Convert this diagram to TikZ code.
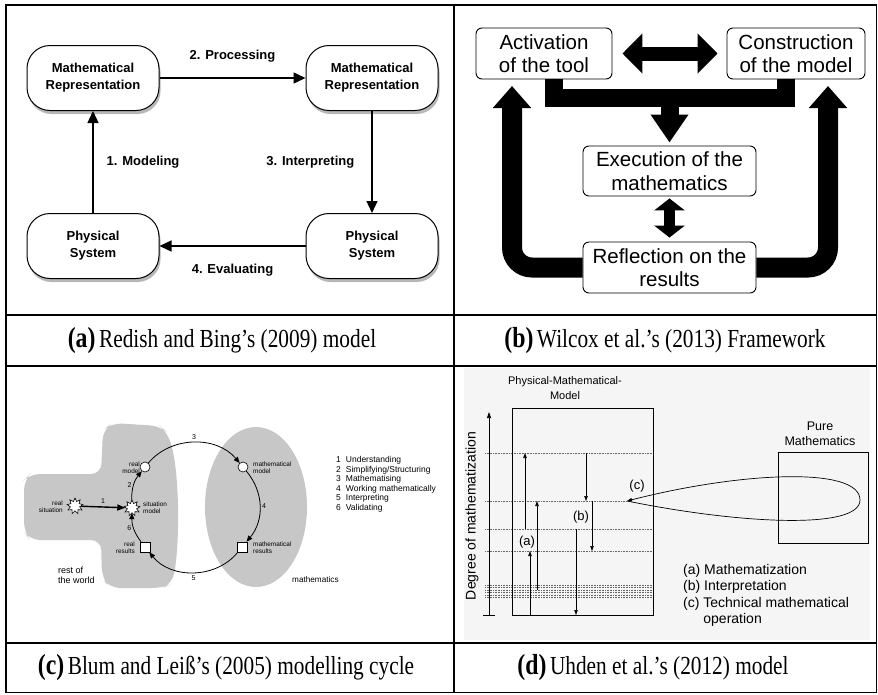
\documentclass[tikz,border=0pt]{standalone}
\usepackage{fontspec}
\setmainfont{Liberation Serif}
\newfontfamily\sansf{Liberation Sans}
\usetikzlibrary{arrows.meta,shadows,shapes.geometric}
\newcommand\fsz[2]{\fontsize{#1}{#2}\selectfont}
\newcommand\captxt[2]{\scalebox{.82}[1]{\textbf{\fsz{29}{29}(#1)}\,#2}}

\tikzset{
  gridline/.style={line width=1.5pt},
  rep/.style={draw, line width=1pt, fill=white, rounded corners=23pt, minimum width=132pt, minimum height=65pt,
    align=center, inner sep=0pt, font=\sansf\bfseries\fsz{13}{17},
    drop shadow={shadow xshift=1.5pt, shadow yshift=-3.5pt, fill=black!40, opacity=.7}},
  cyc/.style={line width=1.4pt, -{Triangle[length=12pt,width=11pt]}},
  cyclab/.style={font=\sansf\bfseries\fsz{13}{15}, inner sep=0pt},
  fw/.style={draw, line width=.9pt, rounded corners=6pt, align=center, inner sep=0pt, font=\sansf\fsz{20.5}{23.5}},
  fat/.style={line width=#1, line join=miter},
  blob/.style={fill=black!22},
  cnode/.style={draw, fill=white, line width=.6pt, inner sep=0pt},
  ring/.style={cnode, circle, minimum size=10pt},
  sq/.style={cnode, minimum size=10pt},
  burst/.style={cnode, star, star points=9, star point ratio=1.7, minimum size=16pt},
  cfl/.style={line width=.8pt, -{Triangle[length=6pt,width=5pt]}},
  ctxt/.style={font=\sansf\fsz{6.4}{7}, inner sep=0pt},
  cnum/.style={font=\sansf\fsz{7}{8}, inner sep=0pt},
  lvl/.style={densely dotted, black!60, line width=.6pt},
  vup/.style={line width=.6pt, -{Triangle[length=5pt,width=3.5pt]}},
  dtxt/.style={font=\sansf\fsz{13}{15}, inner sep=0pt},
  captext/.style={font=\fsz{26}{28}, inner sep=0pt},
}

\begin{document}
\begin{tikzpicture}[x=1pt,y=-1pt]
\useasboundingbox (0,0) rectangle (878,694);
\fill[white] (0,0) rectangle (878,694);

\draw[gridline] (6,5) rectangle (876.5,692.5);
\foreach \y in {315,366,643} \draw[gridline] (6,\y) -- (876.5,\y);
\draw[gridline] (454,5) -- (454,692.5);

% (a)
\node[rep] (mr1) at (93,78) {Mathematical\\Representation};
\node[rep] (mr2) at (372,78) {Mathematical\\Representation};
\node[rep] (ps1) at (93,246) {Physical\\System};
\node[rep] (ps2) at (372,246) {Physical\\System};
\draw[cyc] (ps1) -- node[cyclab, right=13pt]{1. Modeling} (mr1);
\draw[cyc] (mr1) -- node[cyclab, above=15pt]{2. Processing} (mr2);
\draw[cyc] (mr2) -- node[cyclab, left=17pt]{3. Interpreting} (ps2);
\draw[cyc] (ps2) -- node[cyclab, below=17pt]{4. Evaluating} (ps1);

% (b)
\node[fw, minimum width=136pt, minimum height=51pt] (act) at (544,53.5) {Activation\\of the tool};
\node[fw, minimum width=138pt, minimum height=51pt] (con) at (796,53.5) {Construction\\of the model};
\node[fw, minimum width=173pt, minimum height=50pt] (exe) at (669.5,171) {Execution of the\\mathematics};
\node[fw, minimum width=173pt, minimum height=51pt] (refl) at (669.5,267.5) {Reflection on the\\results};
\coordinate (merge) at (669.5,98);
\coordinate (lup) at (512,86);
\coordinate (rup) at (828,86);
\draw[fat=14pt, {Triangle[length=20pt,width=39pt]}-{Triangle[length=20pt,width=39pt]}] ([xshift=10pt]act.east) -- ([xshift=-9pt]con.west);
\draw[fat=18pt] ([xshift=10pt]act.south) |- (merge) -| ([xshift=-10pt]con.south);
\draw[fat=18pt, -{Triangle[length=28pt,width=36pt]}] (merge) -- ([yshift=3pt]exe.north);
\draw[fat=11pt, {Triangle[length=12pt,width=30pt]}-{Triangle[length=12pt,width=30pt]}] ([yshift=-2pt]exe.south) -- ([yshift=4pt]refl.north);
\draw[fat=20pt, rounded corners=20pt, -{Triangle[length=22pt,width=37pt]}] (refl.west) -| (lup);
\draw[fat=20pt, rounded corners=20pt, -{Triangle[length=22pt,width=37pt]}] (refl.east) -| (rup);

% (c)
\fill[blob, rounded corners=10pt] (103,430) -- (112,423) -- (160,426) -- (167,432)
  .. controls (180,470) and (180,545) .. (172,584) -- (162,588) -- (110,588) -- (102,578)
  -- (101,540) -- (30,540) -- (24,532) -- (24,480) -- (30,474) -- (101,474) -- cycle;
\fill[blob] (256,507) ellipse [x radius=51, y radius=80];
\node[ring] (rm) at (145,467) {};
\node[ring] (mm) at (243,467) {};
\node[burst] (sm) at (132,508) {};
\node[sq] (rr) at (145,547) {};
\node[sq] (mr) at (242,547) {};
\node[burst] (rs) at (75,506) {};
\draw[cfl] (rm) to[bend left=50] node[cnum, above=3pt]{3} (mm);
\draw[cfl] (mm) to[bend left=40] node[cnum, right=2pt]{4} (mr);
\draw[cfl] (mr) to[bend left=51] node[cnum, below=3pt]{5} (rr);
\draw[cfl] (rr) to[bend left=19] node[cnum, left=2pt]{6} (sm);
\draw[cfl] (sm) to[bend left=20] node[cnum, left=2pt]{2} (rm);
\draw[line width=1.4pt, -{Triangle[length=8pt,width=6pt]}] (rs) -- node[cnum, above=3pt]{1} (sm);
\node[ctxt, align=right, anchor=east] (rmlab) at (140,468) {real\\model};
\node[ctxt, align=left, anchor=west] (mmlab) at (253,468) {mathematical\\model};
\node[ctxt, align=left, anchor=west] (smlab) at (143,508) {situation\\model};
\node[ctxt, align=right, anchor=east] (rslab) at (63,507) {real\\situation};
\node[ctxt, align=right, anchor=east] (rrlab) at (135,548) {real\\results};
\node[ctxt, align=left, anchor=west] (mrlab) at (253,548) {mathematical\\results};
\node[font=\sansf\fsz{9}{10}, align=left, anchor=west, inner sep=0pt] (world) at (58,575) {rest of\\the world};
\node[font=\sansf\fsz{8.2}{9}, anchor=west, inner sep=0pt] (maths) at (292,580) {mathematics};
\node[anchor=north west, inner sep=0pt, font=\sansf\fsz{8.5}{9.5}] (leg) at (336,456)
  {\begin{tabular}{@{}l@{\hspace{5pt}}l@{}}1&Understanding\\2&Simplifying/Structuring\\3&Mathematising\\
   4&Working mathematically\\5&Interpreting\\6&Validating\end{tabular}};

% (d)
\fill[black!4] (464,368) rectangle (870,640);
\node[font=\sansf\fsz{11}{15}, align=center, inner sep=0pt] (pmm) at (565,388) {Physical-Mathematical-\\Model};
\draw[line width=.7pt, -{Triangle[length=6pt,width=4pt]}] (489,615) -- (489,412);
\draw[line width=.7pt] (483,615) -- (495,615);
\node[font=\sansf\fsz{14}{16}, rotate=90, inner sep=0pt] (deg) at (472,516) {Degree of mathematization};
\foreach \y in {453,529,551,585,587.5,590,592.5,595,597.5}
  \draw[lvl] (485,\y) -- (653,\y);
\coordinate (ctip) at (627,501);
\draw[lvl] (485,501) -- (ctip);
\draw[line width=.8pt] (512,408) rectangle (653,615);
\draw[vup] (525,529) -- (525,453);
\draw[vup] (537,590) -- (537,501);
\draw[vup] (530,615) -- (530,551);
\draw[vup] (586,453) -- (586,501);
\draw[vup] (592,501) -- (592,551);
\draw[vup] (576,529) -- (576,615);
\node[dtxt] (la) at (527,542) {(a)};
\node[dtxt] (lb) at (581,517) {(b)};
\node[dtxt] (lc) at (637,486) {(c)};
\draw[line width=.8pt] (778,452) rectangle (868,543);
\node[font=\sansf\fsz{12.5}{15}, align=center, inner sep=0pt] (pure) at (820,434) {Pure\\Mathematics};
\draw[line width=.7pt, {Triangle[length=5pt,width=3.5pt]}-] (ctip) .. controls (740,472) and (860,466) .. (860,500)
  .. controls (860,530) and (740,524) .. (ctip);
\node[anchor=north west, inner sep=0pt, align=left, font=\sansf\fsz{14}{16.5}] (dleg) at (683,564)
  {(a) Mathematization\\(b) Interpretation\\(c) Technical mathematical\\\phantom{(c) }operation};

% captions
\node[captext] (capa) at (222,341) {\captxt{a}{Redish and Bing’s (2009) model}};
\node[captext] (capb) at (665,341) {\captxt{b}{Wilcox et al.’s (2013) Framework}};
\node[captext] (capc) at (226,668) {\captxt{c}{Blum and Leiß’s (2005) modelling cycle}};
\node[captext] (capd) at (653,668) {\captxt{d}{Uhden et al.’s (2012) model}};
\end{tikzpicture}
\end{document}
